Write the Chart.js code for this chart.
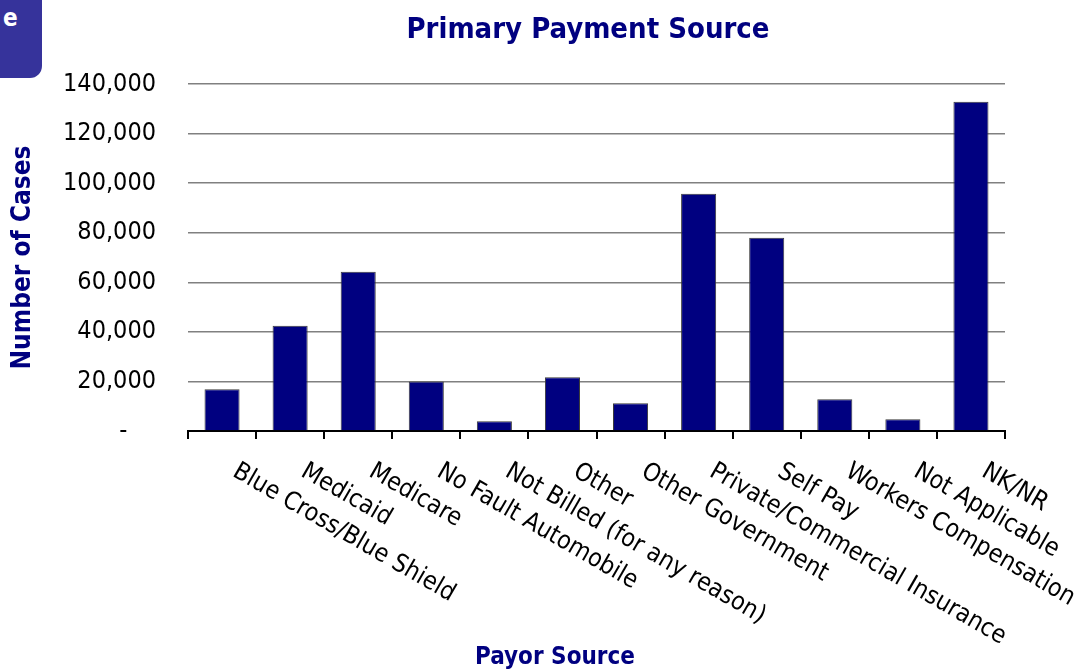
<!DOCTYPE html>
<html>
<head>
<meta charset="utf-8">
<script src="https://cdn.jsdelivr.net/npm/chart.js@4.4.1/dist/chart.umd.min.js"></script>
<style>
  html, body { margin: 0; padding: 0; background: #ffffff; overflow: hidden; }
  #wrap { position: absolute; left: 0; top: 0; width: 1090px; height: 669px; }
  #corner {
    position: absolute; left: 0; top: 0; width: 42px; height: 78px;
    background: #36339b; border-bottom-right-radius: 12px; overflow: hidden;
  }
  #corner span {
    position: absolute; left: 3px; top: 4px; color: #ffffff;
    font: bold 24px "DejaVu Sans Condensed", "DejaVu Sans", sans-serif;
  }
</style>
</head>
<body>
<div id="wrap">
  <canvas id="c" width="1090" height="669"></canvas>
  <div id="corner"><span>e</span></div>
</div>
<script>
const chartTitle = 'Primary Payment Source';
const xAxisTitle = 'Payor Source';
const yAxisTitle = 'Number of Cases';
const categories = [
  'Blue Cross/Blue Shield', 'Medicaid', 'Medicare', 'No Fault Automobile',
  'Not Billed (for any reason)', 'Other', 'Other Government',
  'Private/Commercial Insurance', 'Self Pay', 'Workers Compensation',
  'Not Applicable', 'NK/NR'
];
const cases = [16800, 42500, 64300, 20000, 3900, 21700, 11200, 95700, 78000, 12800, 4700, 132800];
const yMin = 0;
const yMax = 140000;
const yStep = 20000;

const NAVY = '#000080';
const FONT = '"DejaVu Sans Condensed", "DejaVu Sans", sans-serif';

const textPlugin = {
  id: 'textPlugin',
  afterDraw(chart) {
    const ctx = chart.ctx;
    const xs = chart.scales.x;
    ctx.save();
    // chart title
    ctx.fillStyle = NAVY;
    ctx.font = 'bold 29px ' + FONT;
    ctx.textAlign = 'center';
    ctx.textBaseline = 'alphabetic';
    ctx.fillText(chartTitle, 588, 38);
    // x axis title
    ctx.font = 'bold 24px ' + FONT;
    ctx.fillText(xAxisTitle, 555, 664);
    // rotated category labels
    ctx.fillStyle = '#000000';
    ctx.font = '25px ' + FONT;
    ctx.textAlign = 'left';
    ctx.textBaseline = 'top';
    categories.forEach((label, i) => {
      const x = xs.getPixelForValue(i);
      ctx.save();
      ctx.translate(x + 19, xs.top + 28);
      ctx.rotate(Math.PI / 6);
      ctx.fillText(label, 0, 0);
      ctx.restore();
    });
    ctx.restore();
  }
};

new Chart(document.getElementById('c'), {
  type: 'bar',
  data: {
    labels: categories,
    datasets: [{
      data: cases,
      backgroundColor: NAVY,
      borderColor: '#3a3a3a',
      borderWidth: 1,
      barPercentage: 0.515,
      categoryPercentage: 1.0
    }]
  },
  options: {
    responsive: false,
    animation: false,
    devicePixelRatio: 1,
    layout: { padding: { top: 84, right: 85, bottom: 0, left: 0 } },
    plugins: {
      legend: { display: false },
      title: { display: false },
      tooltip: { enabled: false }
    },
    scales: {
      x: {
        type: 'category',
        offset: true,
        ticks: { display: false },
        grid: {
          display: true, offset: true, drawOnChartArea: false, drawTicks: true,
          tickLength: 8, color: '#000000', lineWidth: 2
        },
        border: { display: true, color: '#000000', width: 2 },
        afterFit(scale) { scale.height = 238; }
      },
      y: {
        min: yMin, max: yMax,
        ticks: {
          stepSize: yStep,
          padding: 32,
          color: '#000000',
          font: { family: FONT, size: 25 },
          callback: (v) => v === 0 ? '-    ' : Number(v).toLocaleString('en-US')
        },
        grid: {
          drawTicks: false,
          color: (c) => (c.tick && c.tick.value === 0) ? 'rgba(0,0,0,0)' : '#808080',
          lineWidth: 1.5
        },
        border: { display: false },
        title: {
          display: true,
          text: yAxisTitle,
          color: NAVY,
          font: { family: FONT, size: 26, weight: 'bold' },
          padding: { top: 8, bottom: 0 }
        },
        afterFit(scale) { scale.width = 188; }
      }
    }
  },
  plugins: [textPlugin]
});
</script>
</body>
</html>
